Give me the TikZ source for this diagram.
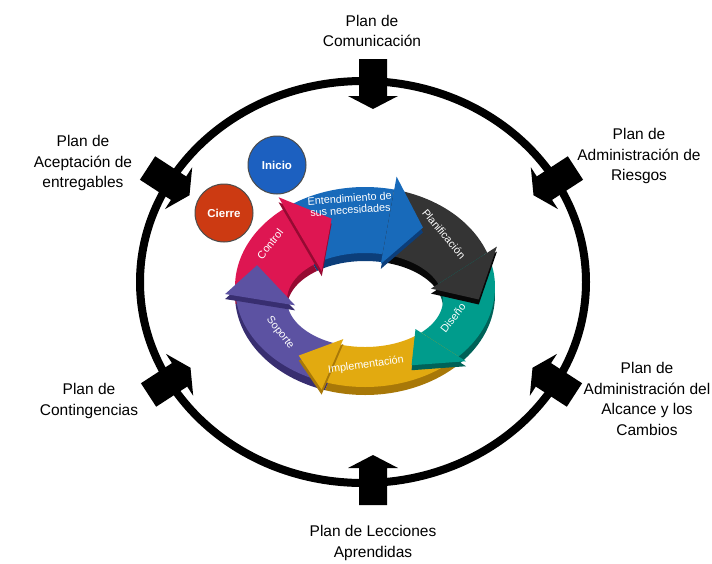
\documentclass[tikz,border=0pt]{standalone}
\usepackage{fontspec}
\setmainfont{Liberation Sans}
\definecolor{cblue}{RGB}{24,106,186}
\definecolor{cbluedk}{RGB}{12,62,122}
\definecolor{cdark}{RGB}{52,52,52}
\definecolor{cdarkdk}{RGB}{8,8,8}
\definecolor{cteal}{RGB}{0,156,140}
\definecolor{ctealdk}{RGB}{0,98,88}
\definecolor{cyel}{RGB}{226,170,16}
\definecolor{cyeldk}{RGB}{168,120,8}
\definecolor{cpur}{RGB}{92,82,162}
\definecolor{cpurdk}{RGB}{56,46,112}
\definecolor{cred}{RGB}{222,22,82}
\definecolor{creddk}{RGB}{150,10,50}
\definecolor{cinicio}{RGB}{28,96,192}
\definecolor{ccierre}{RGB}{204,58,18}
% ring body: start angle, head-base angle, style
\newcommand\rbody[3]{\fill[#3] plot[domain=#1:#2,samples=40,variable=\t]({365+130*cos(\t)},{287+100*sin(\t)}) -- plot[domain=#2:#1,samples=40,variable=\t]({365+78*cos(\t)},{300+47*sin(\t)}) -- cycle;}
% ring head: head-base angle, style
\newcommand\rhead[2]{%
  \pgfmathsetmacro\htx{-104*sin(#1)}%
  \pgfmathsetmacro\hty{73.5*cos(#1)}%
  \pgfmathsetmacro\htl{sqrt(\htx*\htx+\hty*\hty)}%
  \fill[#2] ({365+140.4*cos(#1)},{284.4+110.6*sin(#1)}) -- ({365+104*cos(#1)+35*\htx/\htl},{293.5+73.5*sin(#1)+35*\hty/\htl}) -- ({365+70.2*cos(#1)},{301.95+39.05*sin(#1)}) -- cycle;}
% plan arrow: x, y, direction
\newcommand\planarrow[3]{\fill[black, shift={(#1,#2)}, rotate=#3] (-22,-14) -- (15,-14) -- (15,-25) -- (28,0) -- (15,25) -- (15,14) -- (-22,14) -- cycle;}
\begin{document}
\begin{tikzpicture}[x=1pt,y=-1pt,
  lbl/.style={font=\fontsize{15.5}{20.5}\selectfont, align=center, text=black, inner sep=0pt},
  ringtxt/.style={font=\fontsize{10.8}{11.5}\selectfont, align=center, text=white, inner sep=0pt},
  phase/.style={circle, minimum size=58pt, inner sep=0pt, draw=black!70, line width=1pt, text=white, font=\bfseries\fontsize{11.5}{12}\selectfont}]
\useasboundingbox (0,0) rectangle (712,563);
\fill[white] (0,0) rectangle (712,563);
% outer ring
\draw[line width=8pt] (363,282) ellipse [x radius=223, y radius=201];
\planarrow{373}{81}{-90}
\planarrow{373}{483}{90}
\planarrow{166}{180}{-33}
\planarrow{557}{180}{213}
\planarrow{167}{383}{33}
\planarrow{556}{383}{147}
% ring extrusion
\rbody{232}{283}{cbluedk,shift={(0,8)}}
\rbody{283}{340}{cdarkdk,shift={(0,8)}}
\rbody{340}{404}{ctealdk,shift={(0,8)}}
\rbody{404}{468}{cyeldk,shift={(0,8)}}
\rbody{468}{535}{cpurdk,shift={(0,8)}}
\rbody{535}{592}{creddk,shift={(0,8)}}
% ring top faces
\rbody{232}{283}{cblue}
\rbody{283}{340}{cdark}
\rbody{340}{404}{cteal}
\rbody{404}{468}{cyel}
\rbody{468}{535}{cpur}
\rbody{535}{592}{cred}
% heads
\rhead{283}{cbluedk,shift={(0,5)}}\rhead{283}{cblue}
\rhead{340}{cdarkdk,shift={(0,5)}}\rhead{340}{cdark}
\rhead{404}{ctealdk,shift={(0,5)}}\rhead{404}{cteal}
\rhead{468}{cyeldk,shift={(0,5)}}\rhead{468}{cyel}
\rhead{535}{cpurdk,shift={(0,5)}}\rhead{535}{cpur}
\rhead{592}{creddk,shift={(0,5)}}\rhead{592}{cred}
% ring texts
\node[ringtxt, rotate=4] (ent) at (350,204) {Entendimiento de\\sus necesidades};
\node[ringtxt, rotate=-50] (plan) at (444,234) {Planificación};
\node[ringtxt, rotate=52] (dis) at (453,318) {Diseño};
\node[ringtxt, rotate=8] (impl) at (366,365) {Implementación};
\node[ringtxt, rotate=-52] (sop) at (280,333) {Soporte};
\node[ringtxt, rotate=52] (ctrl) at (270,244) {Control};
% phase circles
\node[phase, fill=cinicio] (inicio) at (277,165) {Inicio};
\node[phase, fill=ccierre] (cierre) at (224,213) {Cierre};
% outer labels
\node[lbl] (comm) at (372,31) {Plan de\\Comunicación};
\node[lbl] (acept) at (83,163) {Plan de\\Aceptación de\\entregables};
\node[lbl] (riesgos) at (639,156) {Plan de\\Administración de\\Riesgos};
\node[lbl] (conting) at (89,401) {Plan de\\Contingencias};
\node[lbl] (alcance) at (647,399) {Plan de\\Administración del\\Alcance y los\\Cambios};
\node[lbl] (lecc) at (373,543) {Plan de Lecciones\\Aprendidas};
\end{tikzpicture}
\end{document}
